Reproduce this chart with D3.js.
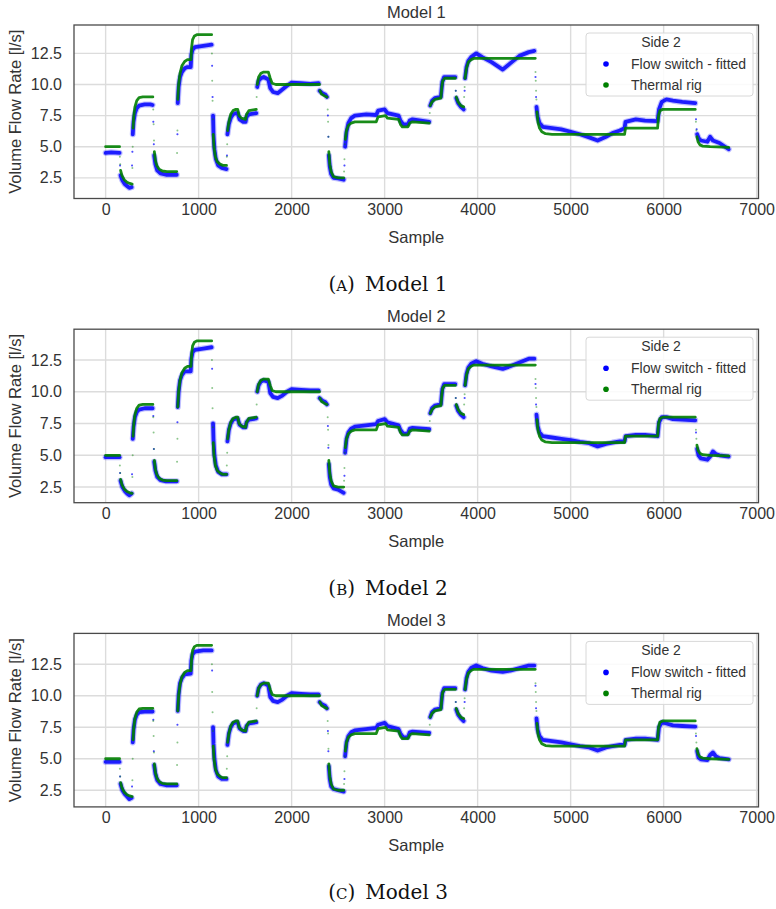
<!DOCTYPE html>
<html>
<head>
<meta charset="utf-8">
<script src="https://cdn.jsdelivr.net/npm/d3@7"></script>
<style>
  body { margin: 0; background: #fff; }
  text { font-family: "Liberation Sans", Arial, sans-serif; fill: #333; }
  .cap, .cap tspan { font-family: "DejaVu Serif", "Liberation Serif", serif; fill: #111; }
</style>
</head>
<body>
<script>
// ---- data ----
const titles = ["Model 1", "Model 2", "Model 3"];
const captionTags = ["A", "B", "C"];
const xTicks = [0, 1000, 2000, 3000, 4000, 5000, 6000, 7000];
const yTicks = [2.5, 5.0, 7.5, 10.0, 12.5];
const xDomain = [-340, 7020];
const yDomains = [[0.84, 14.78], [1.27, 14.92], [1.18, 14.95]];
const legendTitle = "Side 2";
const seriesNames = ["Flow switch - fitted", "Thermal rig"];

// each series = list of segments [sample, l/s]; one-point segments are the sparse transition samples
const thermalRig = [
  [[0,5.0],[150,5.0]],
  [[153,4.2]],[[157,3.6]],
  [[161,3.1],[175,2.7],[200,2.35],[230,2.15],[260,2.05],[285,2.0]],
  [[288,3.3]],[[291,5.0]],
  [[295,6.5],[302,7.4],[315,8.2],[335,8.7],[360,8.95],[400,9.0],[508,9.0]],
  [[512,8.0]],[[516,6.8]],[[520,5.5]],
  [[524,4.6],[535,3.9],[550,3.5],[575,3.2],[610,3.05],[660,3.0],[765,3.0]],
  [[768,4.5]],[[772,6.3]],
  [[776,8.8],[785,10.0],[800,10.9],[820,11.5],[850,11.85],[880,12.0],[918,12.0],[925,13.0],[935,13.6],[955,13.9],[980,14.0],[1140,14.0]],
  [[1143,12.5]],[[1146,10.3]],[[1150,8.7]],[[1153,7.2]],
  [[1157,6.0],[1165,5.0],[1180,4.2],[1200,3.8],[1230,3.6],[1260,3.5],[1300,3.5]],
  [[1303,4.2]],[[1307,5.2]],
  [[1312,6.3],[1325,7.0],[1345,7.6],[1370,7.9],[1400,8.0],[1420,8.0],[1435,7.5],[1460,7.3],[1505,7.2],[1515,7.6],[1540,7.9],[1620,8.0]],
  [[1624,9.0]],
  [[1630,10.0],[1645,10.6],[1670,10.9],[1700,11.0],[1750,11.0],[1770,10.5],[1790,10.1],[1830,10.0],[2300,10.0]],
  [[2304,9.5],[2320,9.25],[2350,9.1],[2380,9.0]],
  [[2388,8.0]],[[2392,7.0]],[[2396,5.8]],
  [[2400,4.6],[2410,3.6],[2425,3.0],[2450,2.6],[2500,2.5],[2560,2.5]],
  [[2564,3.0]],[[2568,4.0]],[[2572,5.2]],
  [[2577,5.6],[2590,6.3],[2610,6.7],[2640,6.9],[2680,7.0],[2910,7.0],[2930,7.4],[3010,7.5],[3030,7.3],[3150,7.2],[3170,6.8],[3190,6.6],[3250,6.6],[3270,6.9],[3300,7.0],[3480,6.9]],
  [[3485,7.7]],
  [[3490,8.3],[3510,8.6],[3540,8.8],[3605,8.9],[3615,9.8],[3625,10.3],[3645,10.5],[3760,10.5]],
  [[3765,9.5]],
  [[3770,9.0],[3790,8.6],[3820,8.3],[3850,8.2]],
  [[3855,9.0]],[[3860,9.8]],
  [[3865,10.5],[3880,11.3],[3900,11.8],[3930,12.0],[3960,12.1],[4620,12.1]],
  [[4622,11.0]],[[4625,10.3]],[[4628,9.5]],[[4632,8.8]],
  [[4638,7.8],[4648,7.0],[4665,6.5],[4690,6.2],[4730,6.05],[4800,6.0],[5580,6.0],[5590,6.5],[5935,6.5],[5945,7.5],[5960,7.9],[5990,8.0],[6340,8.0]],
  [[6347,7.0]],[[6352,6.3]],
  [[6358,5.8],[6370,5.4],[6390,5.15],[6420,5.05],[6500,5.0],[6700,4.95]]
];

const flowSwitch1 = [
  [[0,4.5],[60,4.55],[150,4.5]],
  [[155,3.5]],
  [[160,2.7],[180,2.3],[205,2.0],[230,1.85],[255,1.7],[280,1.75]],
  [[284,3.5]],[[288,4.6]],
  [[292,6.0],[300,7.0],[315,7.7],[335,8.1],[360,8.3],[420,8.4],[480,8.4],[505,8.35]],
  [[513,7.0]],[[518,5.2]],
  [[522,4.3],[535,3.6],[555,3.1],[590,2.85],[650,2.75],[765,2.75]],
  [[772,6.0]],
  [[776,8.5],[785,9.8],[800,10.6],[820,11.0],[850,11.3],[880,11.4],[915,11.4],[922,12.4],[935,12.8],[960,13.0],[1050,13.1],[1140,13.2]],
  [[1145,11.5]],[[1150,9.0]],
  [[1155,7.5],[1160,6.0],[1170,4.8],[1185,4.0],[1210,3.5],[1250,3.3],[1300,3.2]],
  [[1305,4.3]],
  [[1310,6.0],[1325,6.8],[1345,7.3],[1370,7.6],[1400,7.7],[1420,7.7],[1440,7.2],[1480,7.0],[1505,7.0],[1515,7.4],[1540,7.6],[1620,7.7]],
  [[1630,9.8],[1645,10.3],[1670,10.5],[1700,10.6],[1750,10.4],[1770,9.7],[1800,9.4],[1850,9.3],[1900,9.6],[1950,9.9],[2000,10.15],[2100,10.1],[2200,10.05],[2290,10.1]],
  [[2300,9.5],[2330,9.3],[2360,9.2],[2380,9.0]],
  [[2390,7.5]],[[2395,5.8]],
  [[2400,4.3],[2410,3.4],[2425,2.8],[2450,2.5],[2500,2.45],[2560,2.35]],
  [[2568,3.5]],
  [[2575,5.0],[2590,6.2],[2610,6.9],[2640,7.3],[2680,7.5],[2800,7.6],[2910,7.55],[2930,7.9],[3000,8.0],[3030,7.7],[3150,7.5],[3170,7.1],[3200,6.8],[3250,6.8],[3270,7.1],[3300,7.2],[3480,7.0]],
  [[3490,8.3],[3510,8.7],[3540,8.9],[3605,9.0],[3620,10.2],[3640,10.6],[3760,10.6]],
  [[3765,9.5]],
  [[3770,8.9],[3790,8.5],[3820,8.2],[3850,8.0]],
  [[3860,9.5]],
  [[3865,10.5],[3880,11.4],[3900,11.9],[3930,12.2],[3985,12.5],[4050,12.2],[4150,11.8],[4270,11.2],[4350,11.7],[4450,12.3],[4550,12.6],[4610,12.7]],
  [[4622,10.6]],[[4628,9.0]],
  [[4633,8.2],[4645,7.4],[4665,6.9],[4700,6.6],[4800,6.5],[4900,6.4],[5000,6.2],[5100,6.0],[5200,5.75],[5290,5.5],[5380,5.8],[5450,6.1],[5530,6.3],[5580,6.5],[5590,7.0],[5700,7.2],[5800,7.1],[5935,7.05],[5950,8.0],[5980,8.6],[6030,8.8],[6100,8.7],[6200,8.6],[6340,8.5]],
  [[6348,7.2]],[[6355,6.4]],
  [[6360,6.0],[6375,5.7],[6400,5.5],[6470,5.4],[6500,5.8],[6530,5.5],[6600,5.3],[6700,4.8]]
];

const flowSwitch2 = [
  [[0,4.85],[150,4.85]],
  [[155,3.6]],
  [[160,3.0],[180,2.5],[205,2.2],[230,2.0],[255,1.85],[280,2.0]],
  [[284,3.5]],
  [[292,6.3],[300,7.2],[315,8.0],[335,8.4],[360,8.6],[420,8.7],[505,8.7]],
  [[513,8.1]],[[518,5.5]],
  [[522,4.5],[535,3.8],[555,3.3],[590,3.05],[650,2.95],[765,2.95]],
  [[772,7.6]],
  [[776,8.8],[785,10.0],[800,10.9],[820,11.3],[850,11.6],[915,11.6],[922,12.6],[935,13.1],[960,13.3],[1050,13.4],[1140,13.5]],
  [[1145,11.8]],
  [[1155,7.5],[1160,6.2],[1170,5.0],[1185,4.2],[1210,3.7],[1250,3.5],[1300,3.5]],
  [[1310,6.1],[1325,7.0],[1345,7.5],[1370,7.8],[1400,7.9],[1420,7.9],[1440,7.4],[1480,7.2],[1505,7.2],[1515,7.6],[1540,7.8],[1620,7.9]],
  [[1630,10.0],[1645,10.5],[1670,10.8],[1700,10.9],[1750,10.8],[1770,9.9],[1800,9.6],[1850,9.5],[1900,9.7],[1950,10.0],[2000,10.2],[2100,10.15],[2200,10.1],[2290,10.1]],
  [[2300,9.5],[2330,9.3],[2360,9.2],[2380,9.0]],
  [[2390,7.3]],[[2395,5.6]],
  [[2400,4.3],[2410,3.3],[2425,2.7],[2450,2.4],[2500,2.3],[2560,2.05]],
  [[2568,3.4]],
  [[2575,5.2],[2590,6.3],[2610,6.8],[2640,7.1],[2680,7.25],[2800,7.35],[2910,7.45],[2930,7.7],[3000,7.85],[3030,7.6],[3150,7.35],[3170,7.0],[3200,6.7],[3250,6.7],[3270,7.1],[3300,7.15],[3480,7.05]],
  [[3490,8.3],[3510,8.7],[3540,8.9],[3605,9.0],[3620,10.2],[3640,10.6],[3760,10.6]],
  [[3765,9.5]],
  [[3770,8.9],[3790,8.5],[3820,8.2],[3850,8.0]],
  [[3860,9.5]],
  [[3865,10.5],[3880,11.4],[3900,11.9],[3930,12.2],[3985,12.4],[4050,12.2],[4150,12.0],[4270,11.8],[4350,12.0],[4450,12.3],[4550,12.6],[4610,12.6]],
  [[4622,10.6]],[[4628,9.0]],
  [[4633,8.2],[4645,7.3],[4665,6.8],[4700,6.5],[4800,6.4],[4900,6.3],[5000,6.2],[5100,6.05],[5200,5.95],[5290,5.7],[5380,5.9],[5450,6.0],[5530,6.1],[5580,6.1],[5590,6.5],[5700,6.6],[5800,6.6],[5935,6.5],[5950,7.6],[5980,8.0],[6030,8.0],[6100,7.85],[6200,7.8],[6340,7.75]],
  [[6348,6.8]],
  [[6360,5.5],[6375,5.0],[6400,4.75],[6470,4.65],[6500,4.9],[6530,5.3],[6560,5.1],[6600,5.0],[6700,4.9]]
];

const flowSwitch3 = [
  [[0,4.75],[150,4.75]],
  [[155,3.6]],
  [[160,3.0],[180,2.5],[205,2.2],[230,2.0],[255,1.8],[280,1.9]],
  [[284,2.8]],
  [[292,6.3],[300,7.3],[315,8.1],[335,8.5],[360,8.7],[420,8.75],[505,8.75]],
  [[513,8.1]],[[518,5.6]],
  [[522,4.5],[535,3.8],[555,3.3],[590,3.0],[650,2.9],[765,2.9]],
  [[772,7.7]],
  [[776,8.8],[785,10.1],[800,11.0],[820,11.4],[850,11.7],[915,11.75],[922,12.8],[935,13.3],[960,13.5],[1050,13.6],[1140,13.6]],
  [[1145,12.0]],
  [[1155,7.5],[1160,6.2],[1170,5.0],[1185,4.1],[1210,3.6],[1250,3.4],[1300,3.4]],
  [[1310,6.1],[1325,7.0],[1345,7.5],[1370,7.8],[1400,7.9],[1420,7.9],[1440,7.4],[1480,7.2],[1505,7.2],[1515,7.6],[1540,7.8],[1620,7.9]],
  [[1630,10.0],[1645,10.6],[1670,10.9],[1700,11.0],[1750,10.8],[1770,9.9],[1800,9.6],[1850,9.5],[1900,9.7],[1950,10.0],[2000,10.2],[2100,10.15],[2200,10.1],[2290,10.1]],
  [[2300,9.5],[2330,9.3],[2360,9.2],[2380,9.0]],
  [[2390,7.2]],[[2395,5.6]],
  [[2400,4.4],[2410,3.4],[2425,2.8],[2450,2.6],[2500,2.5],[2560,2.4]],
  [[2568,3.4]],
  [[2575,5.2],[2590,6.3],[2610,6.8],[2640,7.1],[2680,7.25],[2800,7.35],[2910,7.45],[2930,7.7],[3000,7.85],[3030,7.6],[3150,7.35],[3170,7.0],[3200,6.7],[3250,6.7],[3270,7.1],[3300,7.15],[3480,7.05]],
  [[3490,8.3],[3510,8.7],[3540,8.9],[3605,9.0],[3620,10.2],[3640,10.6],[3760,10.6]],
  [[3765,9.5]],
  [[3770,8.9],[3790,8.5],[3820,8.2],[3850,8.0]],
  [[3860,9.5]],
  [[3865,10.5],[3880,11.4],[3900,11.9],[3930,12.2],[3985,12.4],[4050,12.2],[4150,12.0],[4270,11.9],[4350,12.0],[4450,12.2],[4550,12.4],[4610,12.4]],
  [[4622,10.8]],[[4628,9.0]],
  [[4633,8.2],[4645,7.3],[4665,6.8],[4700,6.5],[4800,6.4],[4900,6.3],[5000,6.15],[5100,6.0],[5200,5.9],[5290,5.65],[5380,5.9],[5450,6.0],[5530,6.1],[5580,6.1],[5590,6.5],[5700,6.6],[5800,6.6],[5935,6.5],[5950,7.5],[5980,7.9],[6030,7.8],[6100,7.65],[6200,7.6],[6340,7.55]],
  [[6348,6.8]],
  [[6360,5.6],[6375,5.1],[6400,4.95],[6470,4.9],[6500,5.3],[6530,5.5],[6560,5.2],[6600,5.05],[6700,4.95]]
];

const flowSwitch = [flowSwitch1, flowSwitch2, flowSwitch3];

// ---- layout ----
const W = 776, H = 909;
const left = 74, right = 758.5, panelH = 173.5, panelStep = 304.2, firstTop = 25;
const blue = "#0000ff", green = "#008000";

const svg = d3.select("body").append("svg")
  .attr("width", W).attr("height", H);

const x = d3.scaleLinear().domain(xDomain).range([left, right]);

function drawSeries(g, segs, y, color, width, opacity) {
  const line = d3.line().x(d => x(d[0])).y(d => y(d[1]));
  g.append("g").selectAll("path")
    .data(segs.filter(s => s.length > 1))
    .join("path")
    .attr("d", line)
    .attr("fill", "none")
    .attr("stroke", color)
    .attr("stroke-width", width)
    .attr("stroke-linejoin", "round")
    .attr("stroke-linecap", "round")
    .attr("opacity", opacity);
  g.append("g").selectAll("circle")
    .data(segs.filter(s => s.length === 1).map(s => s[0]))
    .join("circle")
    .attr("cx", d => x(d[0]))
    .attr("cy", d => y(d[1]))
    .attr("r", 1)
    .attr("fill", color)
    .attr("opacity", 0.45);
}

titles.forEach((title, i) => {
  const top = firstTop + i * panelStep;
  const bottom = top + panelH;
  const y = d3.scaleLinear().domain(yDomains[i]).range([bottom, top]);
  const g = svg.append("g");

  // grid
  g.append("g").selectAll("line").data(xTicks).join("line")
    .attr("x1", d => x(d)).attr("x2", d => x(d))
    .attr("y1", top).attr("y2", bottom)
    .attr("stroke", "#dcdcdc").attr("stroke-width", 1.4);
  g.append("g").selectAll("line").data(yTicks).join("line")
    .attr("x1", left).attr("x2", right)
    .attr("y1", d => y(d)).attr("y2", d => y(d))
    .attr("stroke", "#dcdcdc").attr("stroke-width", 1.4);

  // axes (labels only, seaborn whitegrid style)
  const xAxis = g.append("g").attr("transform", `translate(0,${bottom})`)
    .call(d3.axisBottom(x).tickValues(xTicks).tickSize(0).tickPadding(16).tickFormat(d3.format("d")));
  const yAxis = g.append("g").attr("transform", `translate(${left},0)`)
    .call(d3.axisLeft(y).tickValues(yTicks).tickSize(0).tickPadding(12).tickFormat(d3.format(".1f")));
  [xAxis, yAxis].forEach(a => {
    a.select(".domain").remove();
    a.selectAll("text").attr("font-size", 16).attr("fill", "#333")
      .attr("font-family", "Liberation Sans, Arial, sans-serif");
  });
  xAxis.selectAll("text").attr("dy", 0).attr("y", 16);

  // series
  const fx = flowSwitch[i];
  drawSeries(g, fx, y, blue, 6, 0.25);
  drawSeries(g, fx, y, blue, 3.8, 0.85);
  drawSeries(g, thermalRig, y, green, 2.8, 0.9);

  // frame
  g.append("rect")
    .attr("x", left).attr("y", top)
    .attr("width", right - left).attr("height", panelH)
    .attr("fill", "none").attr("stroke", "#4a4a4a").attr("stroke-width", 1.3);

  // title + labels
  g.append("text").attr("x", (left + right) / 2).attr("y", top - 7)
    .attr("text-anchor", "middle").attr("font-size", 16.5).text(title);
  g.append("text").attr("x", (left + right) / 2).attr("y", bottom + 44)
    .attr("text-anchor", "middle").attr("font-size", 16.5).text("Sample");
  g.append("text")
    .attr("transform", `translate(21,${(top + bottom) / 2}) rotate(-90)`)
    .attr("text-anchor", "middle").attr("font-size", 16.5).text("Volume Flow Rate [l/s]");

  // legend
  const lg = g.append("g").attr("transform", `translate(586,${top + 8})`);
  lg.append("rect").attr("width", 167).attr("height", 63).attr("rx", 3)
    .attr("fill", "#fff").attr("fill-opacity", 0.85)
    .attr("stroke", "#d8d8d8").attr("stroke-width", 1);
  lg.append("text").attr("x", 75).attr("y", 14).attr("text-anchor", "middle")
    .attr("font-size", 14).text(legendTitle);
  lg.selectAll("g.item").data(seriesNames).join("g").attr("class", "item")
    .attr("transform", (d, k) => `translate(0,${31 + k * 21})`)
    .each(function (d, k) {
      const it = d3.select(this);
      it.append("circle").attr("cx", 20).attr("cy", 0).attr("r", 2.8)
        .attr("fill", k === 0 ? blue : green);
      it.append("text").attr("x", 45).attr("y", 5).attr("font-size", 14).text(d);
    });

  // caption
  const cap = svg.append("text").attr("class", "cap")
    .attr("x", W / 2).attr("y", bottom + 92)
    .attr("text-anchor", "middle").attr("font-size", 20);
  cap.append("tspan").text("(");
  cap.append("tspan").attr("font-size", 15).text(captionTags[i]);
  cap.append("tspan").text(")\u2002" + title);
});
</script>
</body>
</html>
